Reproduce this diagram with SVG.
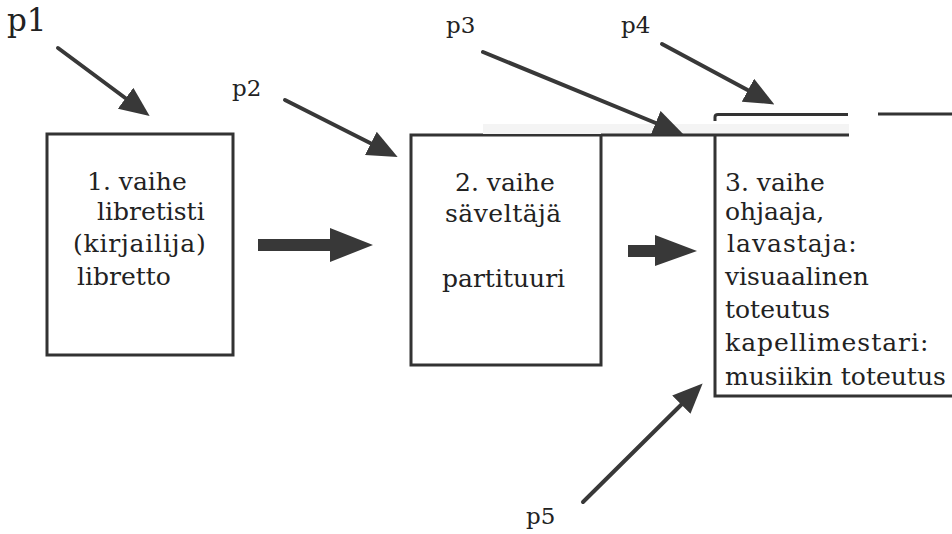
<svg xmlns="http://www.w3.org/2000/svg" width="952" height="534" viewBox="0 0 952 534">
  <defs>
    <style>
      .box { fill: none; stroke: #333; stroke-width: 3; }
      .edge { fill: none; stroke: #333; stroke-width: 3; }
      .ptr { fill: none; stroke: #383838; stroke-width: 4; stroke-linecap: round; }
      .big { fill: #383838; }
      .t { font-family: "DejaVu Serif", "Liberation Serif", serif; font-size: 25px; fill: #222; }
      .lbl { font-family: "DejaVu Serif", "Liberation Serif", serif; font-size: 23px; fill: #222; }
      .lbl.first { font-size: 31px; }
    </style>
    <marker id="head" markerUnits="userSpaceOnUse" viewBox="0 0 30 26" markerWidth="30" markerHeight="26" refX="8" refY="13" orient="auto">
      <path d="M0,0 L30,13 L0,26 Z" fill="#383838"/>
    </marker>
  </defs>

  <rect width="952" height="534" fill="#fff"/>

  <!-- stage 1 -->
  <g id="stage1">
    <rect class="box" x="47" y="134" width="186" height="221"/>
    <text class="t" x="87" y="190">1. vaihe</text>
    <text class="t" x="97" y="220">libretisti</text>
    <text class="t" x="73" y="252" letter-spacing="0.8">(kirjailija)</text>
    <text class="t" x="77" y="285">libretto</text>
  </g>

  <!-- stage 2 -->
  <g id="stage2">
    <rect class="box" x="411" y="135" width="190" height="230"/>
    <text class="t" x="455" y="191">2. vaihe</text>
    <text class="t" x="445" y="222" letter-spacing="0.5">säveltäjä</text>
    <text class="t" x="442" y="287">partituuri</text>
  </g>

  <!-- stage 3: open on the right -->
  <g id="stage3">
    <rect x="483" y="124" width="366" height="10" fill="#f4f4f4"/>
    <path class="box" d="M601,135 H849 M715,135 V396 H952"/>
    <path class="edge" d="M715,121 V117 Q715,114.5 718,114.5 H848 M878,114 H952"/>
    <text class="t" x="725" y="191">3. vaihe</text>
    <text class="t" x="725" y="220">ohjaaja,</text>
    <text class="t" x="727" y="252" letter-spacing="1">lavastaja:</text>
    <text class="t" x="725" y="285">visuaalinen</text>
    <text class="t" x="725" y="318">toteutus</text>
    <text class="t" x="725" y="351" letter-spacing="1">kapellimestari:</text>
    <text class="t" x="725" y="385">musiikin toteutus</text>
  </g>

  <!-- connectors -->
  <g id="connectors">
    <line class="ptr" x1="58" y1="48" x2="132" y2="103" marker-end="url(#head)"/>
    <line class="ptr" x1="285" y1="100" x2="378" y2="147" stroke-width="3.5" marker-end="url(#head)"/>
    <line class="ptr" x1="483" y1="52" x2="663" y2="126" stroke-width="3.5" marker-end="url(#head)"/>
    <line class="ptr" x1="662" y1="44" x2="755" y2="94" marker-end="url(#head)"/>
    <line class="ptr" x1="583" y1="502" x2="687" y2="399" marker-end="url(#head)"/>
    <path class="big" d="M258,239 H330 V228 L373,245 L330,262 V251 H258 Z"/>
    <path class="big" d="M628,245 H655 V235 L697,251 L655,266 V257 H628 Z"/>
  </g>

  <!-- pointer labels -->
  <g id="labels">
    <text class="lbl first" x="7" y="31">p1</text>
    <text class="lbl" x="232" y="96">p2</text>
    <text class="lbl" x="446" y="33">p3</text>
    <text class="lbl" x="621" y="33">p4</text>
    <text class="lbl" x="526" y="524">p5</text>
  </g>
</svg>
